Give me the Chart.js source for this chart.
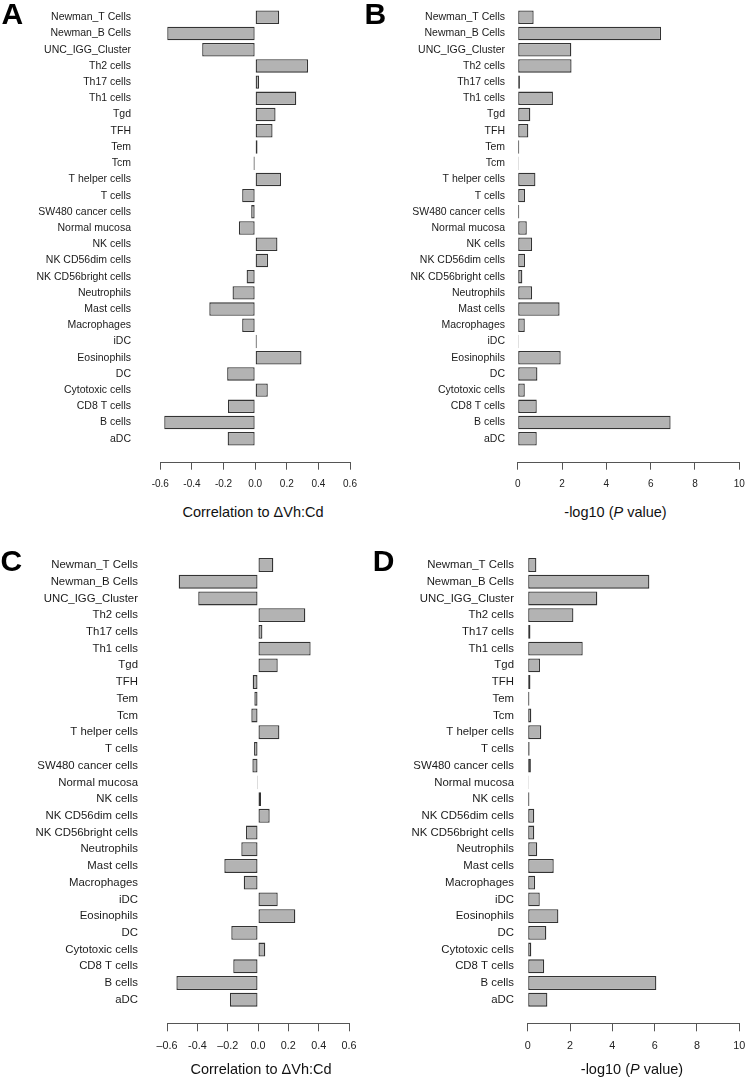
<!DOCTYPE html>
<html>
<head>
<meta charset="utf-8">
<title>Cell type correlation panels</title>
<script src="https://cdn.jsdelivr.net/npm/chart.js@4.4.1/dist/chart.umd.min.js"></script>
<style>
  body { margin: 0; background: #fff; font-family: "Liberation Sans", Arial, sans-serif; }
  #page { position: relative; width: 747px; height: 1080px; overflow: hidden; background: #fff; }
  canvas { position: absolute; }
  .tag { position: absolute; font-size: 30px; line-height: 30px; font-weight: bold; color: #000; }
  .xlab { position: absolute; width: 240px; text-align: center; font-size: 14.5px; line-height: 14.5px; color: #111; white-space: nowrap; }
</style>
</head>
<body>
<div id="page">
  <canvas id="chartA" width="373" height="500" style="left:0px;top:0px"></canvas>
  <canvas id="chartB" width="373" height="500" style="left:374px;top:0px"></canvas>
  <canvas id="chartC" width="373" height="540" style="left:0px;top:540px"></canvas>
  <canvas id="chartD" width="373" height="540" style="left:374px;top:540px"></canvas>

  <div class="tag" style="left:1.5px;top:-0.6px">A</div>
  <div class="tag" style="left:364.5px;top:-0.6px">B</div>
  <div class="tag" style="left:0.5px;top:546px">C</div>
  <div class="tag" style="left:372.7px;top:546px">D</div>

  <div class="xlab" style="left:133px;top:504.7px">Correlation to &Delta;Vh:Cd</div>
  <div class="xlab" style="left:495.5px;top:504.7px">-log10 (<i>P</i> value)</div>
  <div class="xlab" style="left:141px;top:1061.7px">Correlation to &Delta;Vh:Cd</div>
  <div class="xlab" style="left:512px;top:1061.7px">-log10 (<i>P</i> value)</div>
</div>

<script>
// categories, top to bottom
const cellTypes = [
  'Newman_T Cells', 'Newman_B Cells', 'UNC_IGG_Cluster', 'Th2 cells', 'Th17 cells',
  'Th1 cells', 'Tgd', 'TFH', 'Tem', 'Tcm', 'T helper cells', 'T cells',
  'SW480 cancer cells', 'Normal mucosa', 'NK cells', 'NK CD56dim cells',
  'NK CD56bright cells', 'Neutrophils', 'Mast cells', 'Macrophages', 'iDC',
  'Eosinophils', 'DC', 'Cytotoxic cells', 'CD8 T cells', 'B cells', 'aDC'
];

// panel A: correlation
const corrA = [0.152, -0.556, -0.335, 0.335, 0.025, 0.26, 0.129, 0.11, 0.015, -0.01,
  0.164, -0.082, -0.025, -0.103, 0.141, 0.082, -0.054, -0.143, -0.29, -0.082, 0.01,
  0.293, -0.177, 0.08, -0.172, -0.575, -0.174];

// panel B: -log10 p
const log10pB = [0.72, 6.47, 2.42, 2.43, 0.10, 1.59, 0.57, 0.48, 0.07, 0.04,
  0.80, 0.33, 0.07, 0.41, 0.65, 0.33, 0.21, 0.65, 1.89, 0.32, 0.04,
  1.94, 0.89, 0.32, 0.86, 6.90, 0.86];

// panel C: correlation
const corrC = [0.101, -0.523, -0.394, 0.312, 0.029, 0.347, 0.130, -0.035, -0.024, -0.044,
  0.141, -0.026, -0.037, -0.006, 0.020, 0.077, -0.079, -0.110, -0.222, -0.094, 0.130,
  0.246, -0.176, 0.048, -0.163, -0.538, -0.185];

// panel D: -log10 p
const log10pD = [0.41, 5.75, 3.29, 2.16, 0.13, 2.60, 0.58, 0.13, 0.08, 0.17,
  0.64, 0.09, 0.15, 0.04, 0.08, 0.31, 0.31, 0.45, 1.23, 0.35, 0.57,
  1.45, 0.88, 0.17, 0.78, 6.08, 0.93];

// tick values and labels
const corrTicks = [-0.6, -0.4, -0.2, 0, 0.2, 0.4, 0.6];
const corrTickLabelsTop = ['-0.6', '-0.4', '-0.2', '0.0', '0.2', '0.4', '0.6'];
const corrTickLabelsBottom = ['\u20130.6', '-0.4', '\u20130.2', '0.0', '0.2', '0.4', '0.6'];
const pTicks = [0, 2, 4, 6, 8, 10];
const pTickLabels = ['0', '2', '4', '6', '8', '10'];

const FONT = '"Liberation Sans", Arial, sans-serif';

// box coords are relative to each canvas
function drawPanel(id, values, xTicks, xLabels, box) {
  const canvas = document.getElementById(id);
  const cw = canvas.width, ch = canvas.height;
  const top = box.firstRow - 0.6 * box.step;

  new Chart(canvas, {
    type: 'bar',
    data: {
      datasets: [{
        data: values.map((v, i) => ({ x: v, y: i })),
        backgroundColor: '#b3b3b3',
        borderColor: '#333',
        borderWidth: 1.3,
        borderSkipped: false,
        inflateAmount: 0,
        barPercentage: 0.83,
        categoryPercentage: 1
      }]
    },
    options: {
      indexAxis: 'y',
      responsive: false,
      animation: false,
      events: [],
      layout: { padding: { left: 0, top: top, right: cw - box.right, bottom: 0 } },
      plugins: { legend: { display: false }, tooltip: { enabled: false } },
      scales: {
        x: {
          type: 'linear',
          min: xTicks[0],
          max: xTicks[xTicks.length - 1],
          afterBuildTicks: s => { s.ticks = xTicks.map(v => ({ value: v })); },
          afterFit: s => { s.height = ch - box.axisY; s.paddingLeft = 0; s.paddingRight = 0; },
          ticks: {
            autoSkip: false,
            maxRotation: 0,
            padding: box.tickPad,
            color: '#222',
            font: { family: FONT, size: box.tickFont },
            callback: (v, i) => xLabels[i]
          },
          grid: { drawOnChartArea: false, drawTicks: true, tickLength: box.tickLen, color: '#555', lineWidth: 1 },
          border: { display: true, color: '#555', width: 1 }
        },
        y: {
          type: 'linear',
          reverse: true,
          offset: false,
          min: -0.6,
          max: (box.axisY - box.firstRow) / box.step,
          afterBuildTicks: s => { s.ticks = cellTypes.map((c, i) => ({ value: i })); },
          afterFit: s => { s.width = box.left; s.paddingTop = 0; s.paddingBottom = 0; },
          ticks: {
            autoSkip: false,
            padding: box.left - box.labelRight,
            color: '#1a1a1a',
            font: { family: FONT, size: box.labelFont },
            callback: v => cellTypes[v]
          },
          grid: { display: false, drawTicks: false, offset: false },
          border: { display: false }
        }
      }
    }
  });
}

drawPanel('chartA', corrA, corrTicks, corrTickLabelsTop,
  { left: 160.3, right: 350, labelRight: 131, firstRow: 17.3, step: 16.21, axisY: 462.7,
    tickLen: 7, tickPad: 9, labelFont: 10.5, tickFont: 10 });
drawPanel('chartB', log10pB, pTicks, pTickLabels,
  { left: 143.7, right: 365.3, labelRight: 131, firstRow: 17.3, step: 16.21, axisY: 462.7,
    tickLen: 7, tickPad: 9, labelFont: 10.5, tickFont: 10 });
drawPanel('chartC', corrC, corrTicks, corrTickLabelsBottom,
  { left: 167, right: 349, labelRight: 138, firstRow: 25, step: 16.72, axisY: 483.3,
    tickLen: 8, tickPad: 8, labelFont: 11.4, tickFont: 10.8 });
drawPanel('chartD', log10pD, pTicks, pTickLabels,
  { left: 153.7, right: 365.3, labelRight: 140, firstRow: 25, step: 16.72, axisY: 483.3,
    tickLen: 8, tickPad: 8, labelFont: 11.4, tickFont: 10.8 });
</script>
</body>
</html>
